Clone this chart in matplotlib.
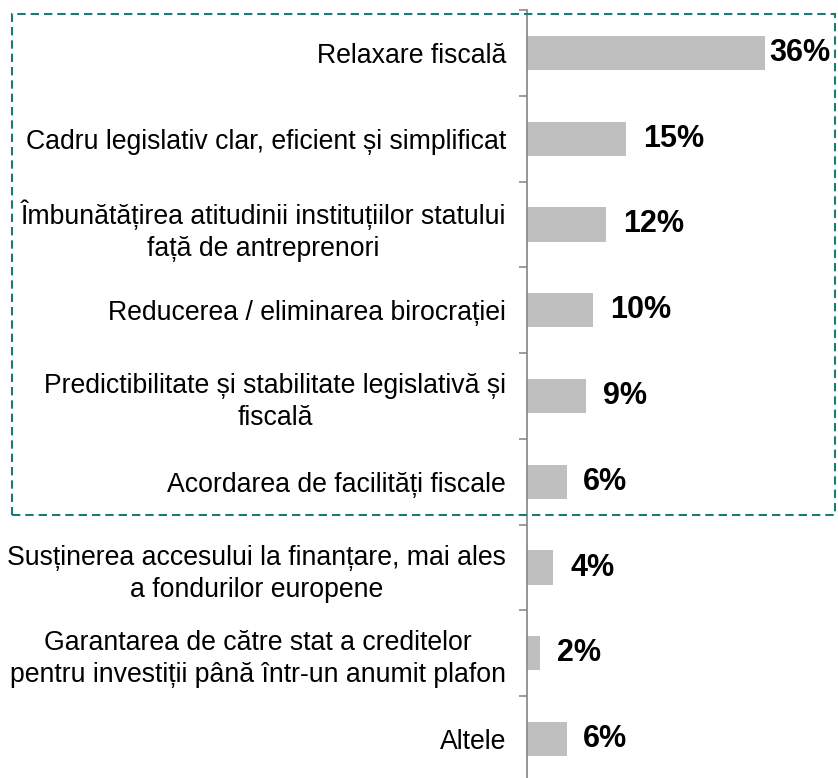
import numpy as np
import matplotlib
matplotlib.use("Agg")
import matplotlib.pyplot as plt
from matplotlib.patches import Rectangle

categories = [
    "Relaxare fiscală",
    "Cadru legislativ clar, eficient și simplificat",
    "Îmbunătățirea atitudinii instituțiilor statului\nfață de antreprenori",
    "Reducerea / eliminarea birocrației",
    "Predictibilitate și stabilitate legislativă și\nfiscală",
    "Acordarea de facilități fiscale",
    "Susținerea accesului la finanțare, mai ales\na fondurilor europene",
    "Garantarea de către stat a creditelor\npentru investiții până într-un anumit plafon",
    "Altele",
]
values = [36, 15, 12, 10, 9, 6, 4, 2, 6]
value_labels = ["36%", "15%", "12%", "10%", "9%", "6%", "4%", "2%", "6%"]

plt.rcParams['font.family'] = ['Liberation Sans', 'DejaVu Sans']

W, H = 838, 778
fig = plt.figure(figsize=(W / 100, H / 100), dpi=100)
ax = fig.add_axes([527 / W, (H - 782) / H, 311 / W, 772 / H])

y = np.arange(len(categories))
ax.barh(y, values, height=0.4, color="#bfbfbf", edgecolor="none")
ax.set_xlim(0, 311 / 6.6)
ax.set_ylim(len(categories) - 0.5, -0.5)

for i, (v, lab) in enumerate(zip(values, value_labels)):
    off = 3 if v == max(values) else 12
    ax.annotate(lab, (v, i), xytext=(off, 0), textcoords="offset points",
                ha="left", va="center", fontsize=22, fontweight="bold", color="black")

ax.set_yticks(y)
ax.set_yticklabels(categories, fontsize=19.2)
for t in ax.get_yticklabels():
    t.set_multialignment("center")
    t.set_linespacing(1.3)
ax.tick_params(axis="y", which="major", length=0, pad=15)
ax.set_yticks(np.arange(-0.5, len(categories)), minor=True)
ax.tick_params(axis="y", which="minor", length=6, width=1.2, color="#8c8c8c", direction="out")
ax.set_xticks([])

for s in ["top", "right", "bottom"]:
    ax.spines[s].set_visible(False)
ax.spines["left"].set_color("#8c8c8c")
ax.spines["left"].set_linewidth(1.3)

# dashed box round the first six answers
box = Rectangle((12 / W, (H - 515) / H), (835 - 12) / W, (515 - 14) / H,
                transform=fig.transFigure, fill=False, edgecolor="#1a7a78",
                linewidth=1.5, linestyle=(0, (4, 2.4)), clip_on=False)
fig.patches.append(box)

fig.savefig("out.png", dpi=100)
